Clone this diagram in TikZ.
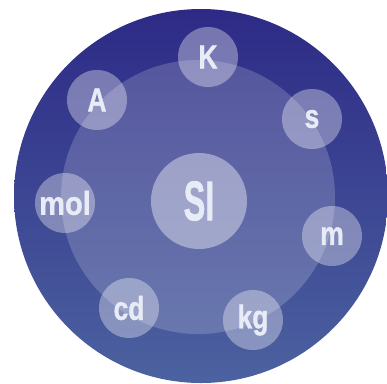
\documentclass[tikz,border=0pt]{standalone}
\usepackage{fontspec}
\setmainfont{Liberation Sans}
\newfontfamily\lblfont[FakeBold=1.2]{Liberation Sans Bold}
\definecolor{outertop}{HTML}{2D2A86}
\definecolor{outerbot}{HTML}{4C62A0}
\definecolor{txt}{HTML}{E8ECF6}
\begin{document}
\begin{tikzpicture}[x=1pt,y=-1pt,
  unit/.style={circle,fill=white,fill opacity=0.35,text opacity=1,text=txt,minimum size=60pt,inner sep=0pt,
    font=\lblfont\fontsize{33}{33}\selectfont},
  hub/.style={circle,fill=white,fill opacity=0.4,text opacity=1,text=txt,minimum size=96pt,inner sep=0pt,
    font=\lblfont\fontsize{56}{56}\selectfont}]
\useasboundingbox (0,0) rectangle (387,383);
\shade[top color=outertop,bottom color=outerbot] (201,196) circle[radius=187];
\fill[white,fill opacity=0.18] (198,197) circle[radius=137];
\node[hub] (si) at (199,201) {\scalebox{0.58}[1]{SI}};
\node[unit] (K) at (208,57) {\scalebox{0.8}[1]{K}};
\node[unit] (A) at (97,100) {\scalebox{0.8}[1]{A}};
\node[unit] (s) at (312,119) {\scalebox{0.8}[1]{s}};
\node[unit] (mol) at (65,203) {\scalebox{0.88}[1]{mol}};
\node[unit] (m) at (332,236) {\scalebox{0.8}[1]{m}};
\node[unit] (cd) at (129,308) {\scalebox{0.8}[1]{cd}};
\node[unit] (kg) at (253,320) {\scalebox{0.8}[1]{kg}};
\end{tikzpicture}
\end{document}
